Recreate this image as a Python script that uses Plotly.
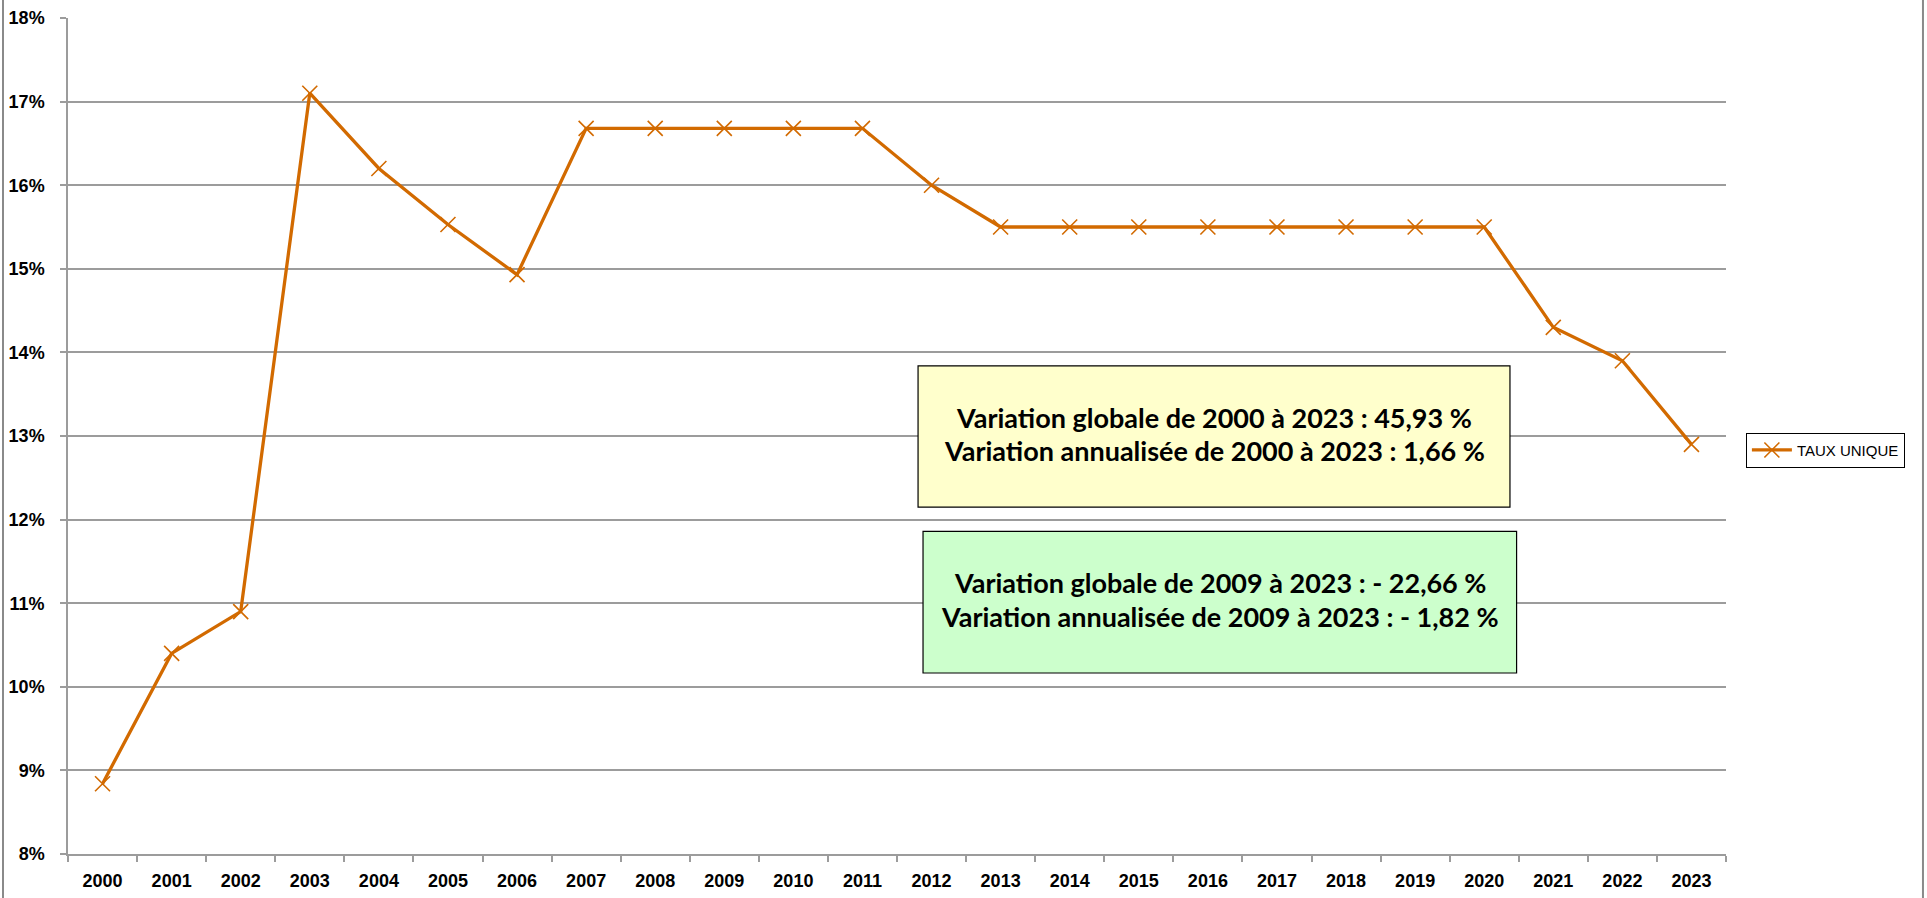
import plotly.graph_objects as go

years = [str(y) for y in range(2000, 2024)]
taux_unique = [8.84, 10.4, 10.9, 17.1, 16.2, 15.53, 14.93,
               16.68, 16.68, 16.68, 16.68, 16.68, 16.0,
               15.5, 15.5, 15.5, 15.5, 15.5, 15.5, 15.5, 15.5,
               14.3, 13.9, 12.9]
series_name = "TAUX UNIQUE"
box1_lines = ["Variation globale de 2000 à 2023 : 45,93 %",
              "Variation annualisée de 2000 à 2023 : 1,66 %"]
box2_lines = ["Variation globale de 2009 à 2023 : - 22,66 %",
              "Variation annualisée de 2009 à 2023 : - 1,82 %"]

ORANGE = "#D26A00"
GRID = "#9c9c9c"
FONT = "Liberation Sans"
BOX_FONT = dict(family="Lato", size=27, color="black", weight="bold")

fig = go.Figure()
fig.add_trace(go.Scatter(
    x=years, y=taux_unique, name=series_name, mode="lines+markers",
    line=dict(color=ORANGE, width=3.3),
    marker=dict(symbol="x-thin-open", size=15, color=ORANGE,
                line=dict(color=ORANGE, width=1.6)),
))

fig.update_layout(
    width=1927, height=898,
    margin=dict(l=68, r=201, t=18, b=44),
    paper_bgcolor="white", plot_bgcolor="white",
    showlegend=True,
    legend=dict(x=1.012, y=0.483, xanchor="left", yanchor="middle",
                bordercolor="black", borderwidth=1,
                font=dict(family=FONT, size=15, color="black"),
                itemwidth=40, tracegroupgap=0),
    font=dict(family=FONT),
)

fig.update_xaxes(
    type="category", range=[-0.5, 23.5], automargin=False,
    showgrid=False, showline=True, linecolor=GRID, linewidth=1.5,
    ticks="outside", tickson="boundaries", ticklen=6, tickcolor=GRID, tickwidth=1.5,
    tickfont=dict(family=FONT, size=18, color="black", weight="bold"),
    ticklabelstandoff=10,
)
fig.update_yaxes(
    range=[8, 18], dtick=1, ticksuffix="%", automargin=False,
    showgrid=True, gridcolor=GRID, gridwidth=1.5,
    showline=True, linecolor=GRID, linewidth=1.5,
    ticks="outside", ticklen=6, tickcolor=GRID, tickwidth=1.5,
    tickfont=dict(family=FONT, size=18, color="black", weight="bold"),
    ticklabelstandoff=12, zeroline=False,
)

# annotation boxes
Y0, Y1 = 0.5127, 0.8697
G0, G1 = 0.5157, 0.8737
fig.add_shape(type="rect", xref="paper", yref="paper",
              x0=Y0, x1=Y1, y0=0.415, y1=0.584,
              fillcolor="#FFFFCC", line=dict(color="black", width=1.2), layer="above")
fig.add_shape(type="rect", xref="paper", yref="paper",
              x0=G0, x1=G1, y0=0.2165, y1=0.386,
              fillcolor="#CCFFCC", line=dict(color="black", width=1.2), layer="above")
for txt, yy in zip(box1_lines, [0.5225, 0.4825]):
    fig.add_annotation(xref="paper", yref="paper", x=(Y0 + Y1) / 2, y=yy, text=txt,
                       showarrow=False, font=BOX_FONT, xanchor="center", yanchor="middle")
for txt, yy in zip(box2_lines, [0.3243, 0.2846]):
    fig.add_annotation(xref="paper", yref="paper", x=(G0 + G1) / 2, y=yy, text=txt,
                       showarrow=False, font=BOX_FONT, xanchor="center", yanchor="middle")

# outer chart border (left and right edges)
fig.add_shape(type="line", xref="paper", yref="paper", x0=-0.0392, x1=-0.0392, y0=-0.06, y1=1.03,
              line=dict(color="#8a8a8a", width=2))
fig.add_shape(type="line", xref="paper", yref="paper", x0=1.1188, x1=1.1188, y0=-0.06, y1=1.03,
              line=dict(color="#8a8a8a", width=2))

fig.write_html("out.html", config={"displayModeBar": False},
               post_script="document.body.style.margin='0';")
